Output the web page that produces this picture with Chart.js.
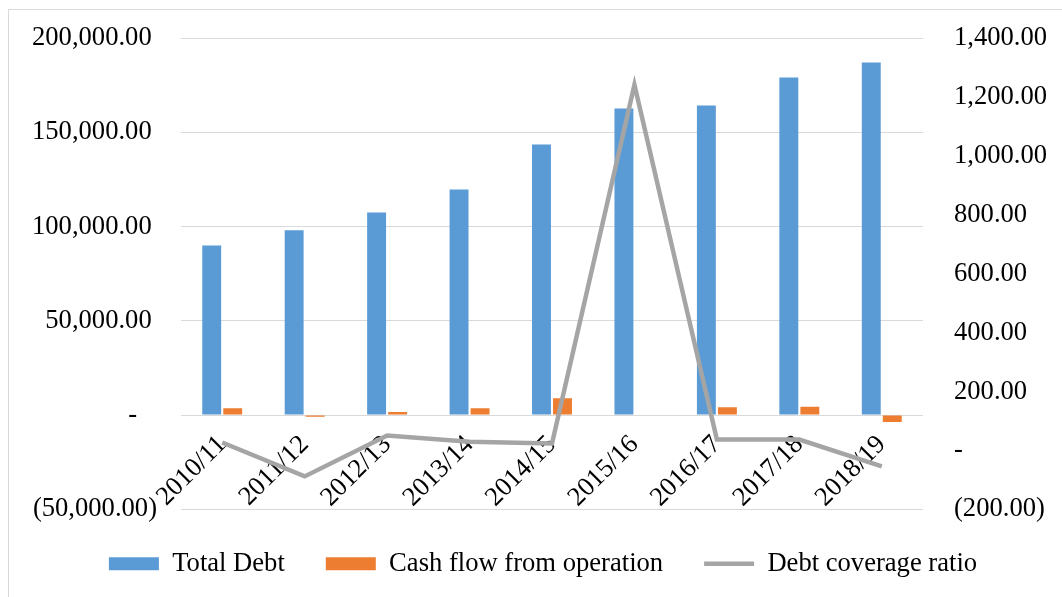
<!DOCTYPE html>
<html>
<head>
<meta charset="utf-8">
<script src="https://cdn.jsdelivr.net/npm/chart.js@4/dist/chart.umd.min.js"></script>
<style>
  html, body { margin: 0; padding: 0; background: #fff; }
  #wrap { position: relative; width: 1062px; height: 597px; }
  #frame { position: absolute; left: 8px; top: 9px; right: -2px; bottom: -2px; border: 1px solid #d9d9d9; }
  canvas { position: absolute; left: 0; top: 0; }
</style>
</head>
<body>
<div id="wrap">
  <div id="frame"></div>
  <canvas id="chart" width="1062" height="597"></canvas>
</div>
<script>
// values
const years = ["2010/11", "2011/12", "2012/13", "2013/14", "2014/15", "2015/16", "2016/17", "2017/18", "2018/19"];
const totalDebt = [90000, 98000, 107500, 119700, 143500, 162600, 164200, 179000, 187000];
const cashFlow = [3700, -800, 1600, 3700, 9000, 0, 4200, 4500, -3700];
const coverage = [27, -88, 51, 30, 24, 1241, 37, 37, -54];

const font = { family: "'Liberation Serif', 'Times New Roman', serif", size: 26.6 };

// excel-ish accounting format
function acct(v) {
  if (v === 0) return "-";
  const s = Math.abs(v).toLocaleString("en-US", { minimumFractionDigits: 2, maximumFractionDigits: 2 });
  return v < 0 ? "(" + s + ")" : s;
}

// fixed axis widths, and don't let the big tick padding eat the plot height
function fixAxis(width) {
  return (s) => {
    s.width = width;
    s.paddingTop = 16;
    s.paddingBottom = 16;
  };
}

new Chart(document.getElementById("chart"), {
  type: "bar",
  data: {
    labels: years,
    datasets: [
      {
        label: "Total Debt",
        data: totalDebt,
        backgroundColor: "#5b9bd5",
        pointStyle: "rect",
        categoryPercentage: 0.51,
        barPercentage: 0.9,
        yAxisID: "y",
      },
      {
        label: "Cash flow from operation",
        data: cashFlow,
        backgroundColor: "#ed7d31",
        pointStyle: "rect",
        categoryPercentage: 0.51,
        barPercentage: 0.9,
        yAxisID: "y",
      },
      {
        type: "line",
        label: "Debt coverage ratio",
        data: coverage,
        borderColor: "#a5a5a5",
        backgroundColor: "#a5a5a5",
        borderWidth: 4.5,
        pointRadius: 0,
        pointStyle: "line",
        tension: 0,
        order: -1,
        yAxisID: "y1",
      },
    ],
  },
  options: {
    responsive: false,
    animation: false,
    layout: { padding: { left: 24, right: 0, top: 38, bottom: 10 } },
    plugins: {
      tooltip: { enabled: false },
      legend: {
        position: "bottom",
        labels: {
          font: font,
          color: "#000",
          usePointStyle: true,
          pointStyleWidth: 50,
          boxHeight: 13,
          padding: 41,
          sort: (a, b) => a.datasetIndex - b.datasetIndex,
        },
      },
    },
    scales: {
      x: {
        position: { y: 0 },
        grid: { display: false, drawTicks: false },
        border: { display: false },
        ticks: { font: font, color: "#000", minRotation: 45, maxRotation: 45, padding: 14 },
        afterFit: (s) => { s.height = 0; },
      },
      y: {
        position: "left",
        min: -50000,
        max: 200000,
        grid: { color: "#d9d9d9", drawTicks: false },
        border: { display: false },
        ticks: {
          stepSize: 50000,
          font: font,
          color: "#000",
          padding: 24,
          callback: (v) => v === 0 ? "-\u2007 " : v > 0 ? acct(v) + "\u2009" : acct(v),
        },
        afterFit: fixAxis(157),
      },
      y1: {
        position: "right",
        min: -200,
        max: 1400,
        grid: { drawOnChartArea: false, drawTicks: false },
        border: { display: false },
        ticks: {
          stepSize: 200,
          font: font,
          color: "#000",
          padding: 31,
          callback: (v) => acct(v),
        },
        afterFit: fixAxis(139),
      },
    },
  },
});
</script>
</body>
</html>
